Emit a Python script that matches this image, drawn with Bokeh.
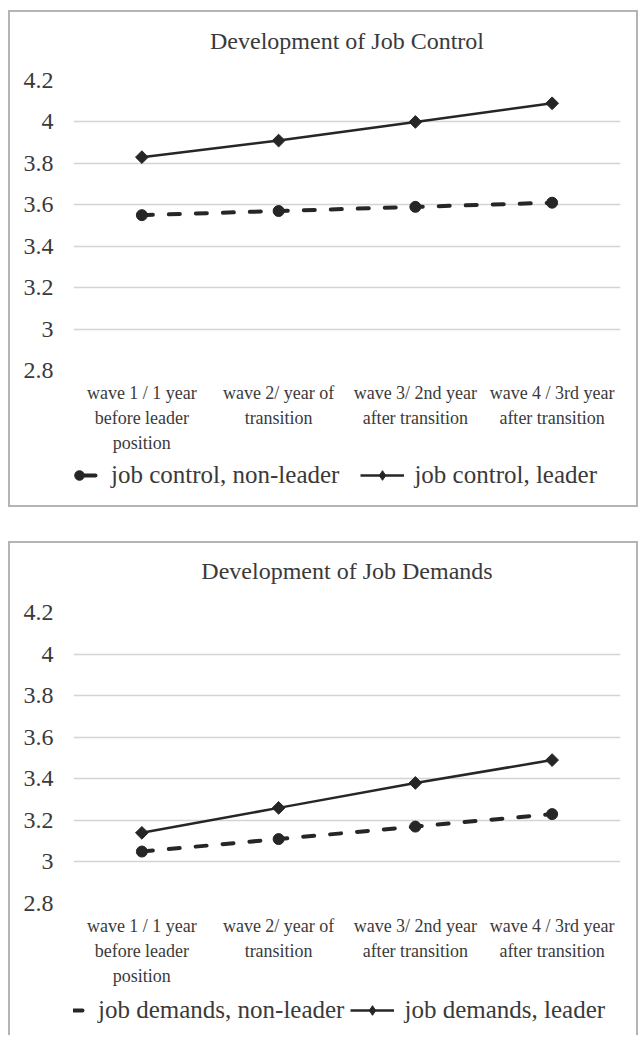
import numpy as np
from bokeh.plotting import figure
from bokeh.models import (FactorRange, Range1d, Legend, LegendItem, FixedTicker,
                          CustomJSTickFormatter, Spacer, Label)
from bokeh.layouts import column, row
from bokeh.embed import file_html
from bokeh.resources import INLINE

# ---------------- data ----------------
categories = [
    "wave 1 / 1 year\nbefore leader\nposition",
    "wave 2/ year of\ntransition",
    "wave 3/ 2nd year\nafter transition",
    "wave 4 / 3rd year\nafter transition",
]
y_ticks = [2.8, 3.0, 3.2, 3.4, 3.6, 3.8, 4.0, 4.2]
y_tick_labels = ["2.8", "3", "3.2", "3.4", "3.6", "3.8", "4", "4.2"]

control_nonleader = [3.55, 3.57, 3.59, 3.61]
control_leader = [3.83, 3.91, 4.00, 4.09]
demands_nonleader = [3.05, 3.11, 3.17, 3.23]
demands_leader = [3.14, 3.26, 3.38, 3.49]

titles = ["Development of Job Control", "Development of Job Demands"]
legend_labels = [
    ["job control, non-leader", "job control, leader"],
    ["job demands, non-leader", "job demands, leader"],
]

FONT = "Liberation Serif"
TXT = "#3a3a3a"
INK = "#262626"
W = 626
DASH = dict(line_color=INK, line_width=4, line_dash="11 16", line_cap="round")
SOLID = dict(line_color=INK, line_width=2.5)


def strip(height):
    q = figure(width=W, height=height, x_range=Range1d(0, 1), y_range=Range1d(0, 1),
               x_axis_type=None, y_axis_type=None,
               min_border=0, output_backend="svg", toolbar_location=None)
    q.outline_line_color = None
    q.grid.grid_line_color = None
    return q


def make_title(text, height):
    q = strip(height)
    q.add_layout(Label(x=0.5, y=0.5, text=text, text_align="center",
                       text_baseline="middle", text_font=FONT,
                       text_font_size="24px", text_color=TXT))
    return q


def make_chart(nonleader, leader, top, frame_h, bottom):
    p = figure(
        x_range=FactorRange(*categories, range_padding=0),
        y_range=Range1d(2.8, 4.2),
        width=W, height=top + frame_h + bottom,
        min_border_left=63, min_border_right=16,
        min_border_top=top, min_border_bottom=bottom,
        output_backend="svg", toolbar_location=None,
    )
    p.outline_line_color = None
    p.border_fill_color = "white"

    p.xgrid.grid_line_color = None
    p.ygrid.grid_line_color = "#d4d4d4"
    p.ygrid.grid_line_width = 1.5
    p.yaxis.ticker = FixedTicker(ticks=y_ticks)
    p.yaxis.formatter = CustomJSTickFormatter(
        args=dict(tvals=y_ticks, tlabs=y_tick_labels),
        code="for (let i = 0; i < tvals.length; i++) {"
             " if (Math.abs(tvals[i] - tick) < 1e-9) return tlabs[i]; }"
             " return '';")

    for ax in (p.xaxis[0], p.yaxis[0]):
        ax.axis_line_color = None
        ax.major_tick_line_color = None
        ax.minor_tick_line_color = None
        ax.major_tick_out = 0
        ax.major_tick_in = 0
        ax.major_label_text_font = FONT
        ax.major_label_text_color = TXT
    p.yaxis.major_label_text_font_size = "24px"
    p.yaxis.major_label_standoff = 20
    p.xaxis.major_label_text_font_size = "18px"
    p.xaxis.major_label_standoff = 12
    p.xaxis.major_label_text_line_height = 1.27

    p.line(categories, nonleader, **DASH)
    p.scatter(categories, nonleader, marker="circle", size=11,
              fill_color=INK, line_color=INK)
    p.line(categories, leader, **SOLID)
    p.scatter(categories, leader, marker="square", angle=np.pi / 4, size=9,
              fill_color=INK, line_color=INK)
    return p


def make_legend(labels, nonleader, leader, height, loc, spacing):
    # legend-only strip; its renderers hold the series but lie outside the visible range
    q = strip(height)
    xs = list(range(10, 10 + len(nonleader)))
    a1 = q.line(xs, nonleader, **DASH)
    a2 = q.scatter(xs, nonleader, marker="circle", size=11, fill_color=INK, line_color=INK)
    b1 = q.line(xs, leader, **SOLID)
    b2 = q.scatter(xs, leader, marker="diamond", size=13, fill_color=INK, line_color=INK)
    legend = Legend(
        items=[LegendItem(label=labels[0], renderers=[a1, a2]),
               LegendItem(label=labels[1], renderers=[b1, b2])],
        orientation="horizontal", location=loc,
        glyph_width=44, glyph_height=24, label_standoff=10, spacing=spacing,
        padding=4, margin=0,
        background_fill_alpha=0, border_line_color=None,
        label_text_font=FONT, label_text_font_size="25px", label_text_color=TXT,
    )
    q.add_layout(legend, "center")
    return q


BORDER = "2px solid #b4b4b4"
box1 = column(make_title(titles[0], 56),
              make_chart(control_nonleader, control_leader, 12, 290, 88),
              make_legend(legend_labels[0], control_nonleader, control_leader, 47, (-16, 16), 21),
              styles={"border": BORDER})
box2 = column(make_title(titles[1], 55),
              make_chart(demands_nonleader, demands_leader, 14, 291, 88),
              make_legend(legend_labels[1], demands_nonleader, demands_leader, 44, (-29, 11), 6),
              styles={"border-left": BORDER, "border-right": BORDER, "border-top": BORDER})

layout = row(Spacer(width=8),
             column(Spacer(height=10), box1, Spacer(height=34), box2))
open("out.html", "w").write(file_html(layout, INLINE))
